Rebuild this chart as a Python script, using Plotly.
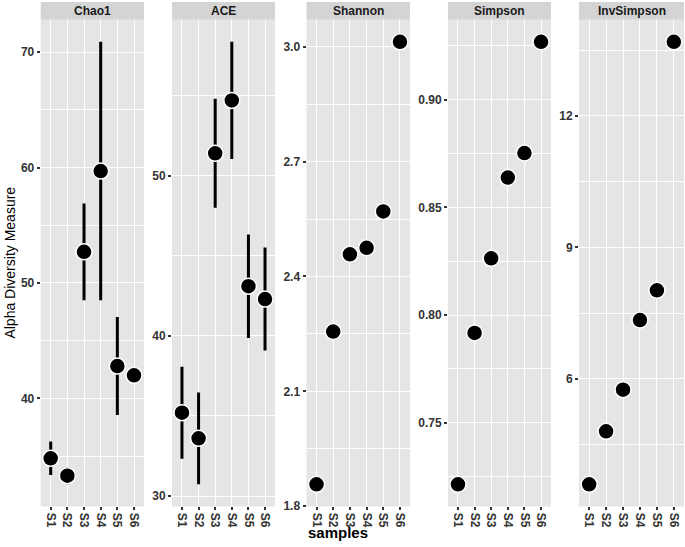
import plotly.graph_objects as go

samples = ["S1", "S2", "S3", "S4", "S5", "S6"]
measures = ["Chao1", "ACE", "Shannon", "Simpson", "InvSimpson"]

chao1 = [34.8, 33.3, 52.7, 59.7, 42.8, 42.0]
chao1_se = [1.45, 0.75, 4.2, 11.2, 4.25, 0.2]
ace = [35.2, 33.6, 51.4, 54.7, 43.1, 42.3]
ace_se = [2.87, 2.87, 3.4, 3.66, 3.23, 3.22]
shannon = [1.857, 2.256, 2.458, 2.475, 2.570, 3.013]
simpson = [0.7214, 0.7917, 0.8263, 0.8638, 0.8752, 0.9268]
invsimpson = [3.59, 4.80, 5.75, 7.34, 8.02, 13.69]

values = [chao1, ace, shannon, simpson, invsimpson]
ses = [chao1_se, ace_se, None, None, None]

tick0 = [40, 30, 1.8, 0.75, 6]
dtick = [10, 10, 0.3, 0.05, 3]
tickfmt = ["d", "d", ".1f", ".2f", "d"]

x_dom_px = [(40.7, 144), (172, 275), (306.5, 410), (448, 551), (579, 684)]
W, H = 685, 547
y_top_px, y_bot_px, strip_top_px = 20, 513, 2

fig = go.Figure()
tick_font = dict(family="Liberation Sans, Arial", size=12, color="#333333",
                 weight="bold")

for i, (m, vals, se) in enumerate(zip(measures, values, ses)):
    n = "" if i == 0 else str(i + 1)
    if se is not None:
        lo = min(v - s for v, s in zip(vals, se))
        hi = max(v + s for v, s in zip(vals, se))
        err = dict(type="data", array=se, symmetric=True, color="black",
                   thickness=3, width=0, visible=True)
    else:
        lo, hi = min(vals), max(vals)
        err = None
    pad = (hi - lo) * 0.05
    fig.add_trace(go.Scatter(
        x=samples, y=vals, mode="markers",
        marker=dict(size=16, color="black", line=dict(color="white", width=1.5)),
        error_y=err, xaxis="x" + n, yaxis="y" + n, showlegend=False,
        cliponaxis=False))
    x0, x1 = x_dom_px[i]
    dom = [x0 / W, x1 / W]
    fig.layout["xaxis" + n] = dict(
        domain=dom, anchor="y" + n, type="category",
        categoryorder="array", categoryarray=samples,
        range=[-0.6, 5.6], showgrid=True, gridcolor="white", gridwidth=1.2,
        zeroline=False, ticks="outside", ticklen=3, tickwidth=1.5,
        tickcolor="#333333", tickangle=90, tickfont=tick_font, showline=False)
    fig.layout["yaxis" + n] = dict(
        domain=[(H - y_bot_px) / H, (H - y_top_px) / H], anchor="x" + n,
        range=[lo - pad, hi + pad], tickmode="linear", tick0=tick0[i],
        dtick=dtick[i], tickformat=tickfmt[i],
        showgrid=True, gridcolor="white", gridwidth=1.2, zeroline=False,
        ticks="outside", ticklen=3, tickwidth=1.5, tickcolor="#333333",
        tickfont=tick_font,
        minor=dict(showgrid=True, gridcolor="white", gridwidth=0.6,
                   tick0=tick0[i], dtick=dtick[i] / 2, ticks=""))
    # facet strip
    fig.add_shape(type="rect", xref="paper", yref="paper",
                  x0=dom[0], x1=dom[1],
                  y0=(H - y_top_px) / H, y1=(H - strip_top_px) / H,
                  fillcolor="#D4D4D4", line=dict(width=0), layer="below")
    fig.add_annotation(text=m, xref="paper", yref="paper",
                       x=(dom[0] + dom[1]) / 2,
                       y=(H - (y_top_px + strip_top_px) / 2) / H,
                       showarrow=False, xanchor="center", yanchor="middle",
                       font=dict(family="Liberation Sans, Arial", size=12,
                                 color="#1A1A1A", weight="bold"))

fig.add_annotation(text="Alpha Diversity Measure", xref="paper", yref="paper",
                   x=10 / W, y=(H - 266) / H, textangle=-90, showarrow=False,
                   xanchor="center", yanchor="middle",
                   font=dict(family="Liberation Sans Narrow, Liberation Sans, Arial",
                             size=14, color="black"))
fig.add_annotation(text="samples", xref="paper", yref="paper",
                   x=338 / W, y=(H - 539) / H, showarrow=False,
                   xanchor="center", yanchor="middle",
                   font=dict(family="Liberation Sans, Arial", size=15,
                             color="black", weight="bold"))

fig.update_layout(width=W, height=H, margin=dict(l=0, r=0, t=0, b=0),
                  paper_bgcolor="white", plot_bgcolor="#E5E5E5")
fig.write_html("out.html")
